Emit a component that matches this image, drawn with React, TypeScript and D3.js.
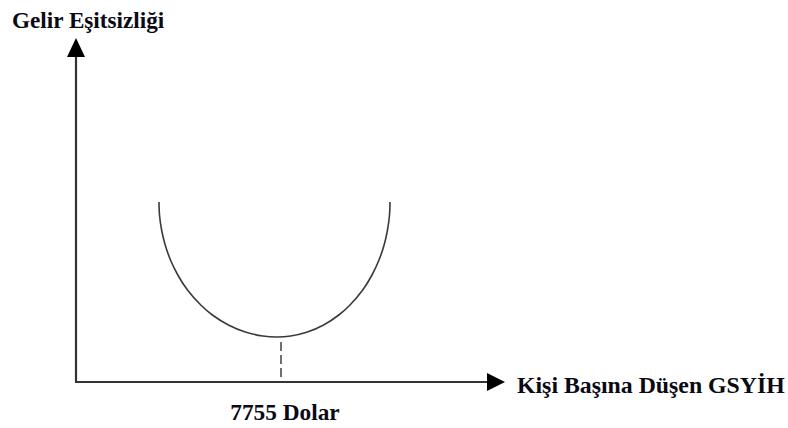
import React from "react";
import * as d3 from "d3";

// Abstract data units: x = per-capita GDP position, y = income inequality level
const curveX = [83, 83.5, 85.6, 89.2, 94.5, 101.8, 111.5, 124.8, 136.4, 152.4, 169.3, 186.8, 201, 214.7, 231.4, 247.6, 262.8, 274, 286.7, 296, 303, 308.1, 311.5, 313.5, 314];
const curveY = [180, 167, 152, 137, 122, 107, 92, 77, 67, 57, 50, 46, 45, 46, 50, 57, 67, 77, 92, 107, 122, 137, 152, 167, 180];
const thresholdX = [205];
const thresholdLabel = ["7755 Dolar"];
const yAxisLabel = ["Gelir Eşitsizliği"];
const xAxisLabel = ["Kişi Başına Düşen GSYİH"];

const W = 788;
const H = 428;

export default function App() {
  const x = d3.scaleLinear().domain([0, 424]).range([76, 500]);
  const y = d3.scaleLinear().domain([0, 344]).range([382, 38]);
  const pts: [number, number][] = curveX.map((v, i) => [v, curveY[i]]);
  const line = d3
    .line<[number, number]>()
    .x((d) => x(d[0]))
    .y((d) => y(d[1]))
    .curve(d3.curveCatmullRom.alpha(0.5));
  const ox = x(0);
  const oy = y(0);
  const font = "'Liberation Serif', 'Times New Roman', serif";
  return (
    <svg
      width={W}
      height={H}
      style={{ position: "absolute", left: 0, top: 0, display: "block", background: "#fff" }}
    >
      {/* axes */}
      <line x1={ox} y1={oy} x2={ox} y2={y(325)} stroke="#333" strokeWidth={2.2} />
      <line x1={ox - 1} y1={oy} x2={x(412)} y2={oy} stroke="#333" strokeWidth={2.2} />
      <path
        d={`M${ox},${y(344)} L${ox - 9},${y(325)} L${ox + 9},${y(325)} Z`}
        fill="#000"
      />
      <path
        d={`M${x(429)},${oy} L${x(411)},${oy - 9} L${x(411)},${oy + 9} Z`}
        fill="#000"
      />
      {/* curve */}
      <path d={line(pts) || ""} fill="none" stroke="#3a3a3a" strokeWidth={1.6} />
      {/* threshold dashed line */}
      <line
        x1={x(thresholdX[0])}
        x2={x(thresholdX[0])}
        y1={y(40)}
        y2={y(3)}
        stroke="#333"
        strokeWidth={1.4}
        strokeDasharray="9,4"
      />
      {/* labels */}
      <text x={12} y={28} fontFamily={font} fontWeight="bold" fontSize={23.2} fill="#0a0a14">
        {yAxisLabel[0]}
      </text>
      <text x={517} y={393} fontFamily={font} fontWeight="bold" fontSize={23.8} fill="#0a0a14">
        {xAxisLabel[0]}
      </text>
      <text
        x={x(thresholdX[0]) + 4}
        y={420}
        textAnchor="middle"
        fontFamily={font}
        fontWeight="bold"
        fontSize={23.3}
        fill="#0a0a14"
      >
        {thresholdLabel[0]}
      </text>
    </svg>
  );
}
